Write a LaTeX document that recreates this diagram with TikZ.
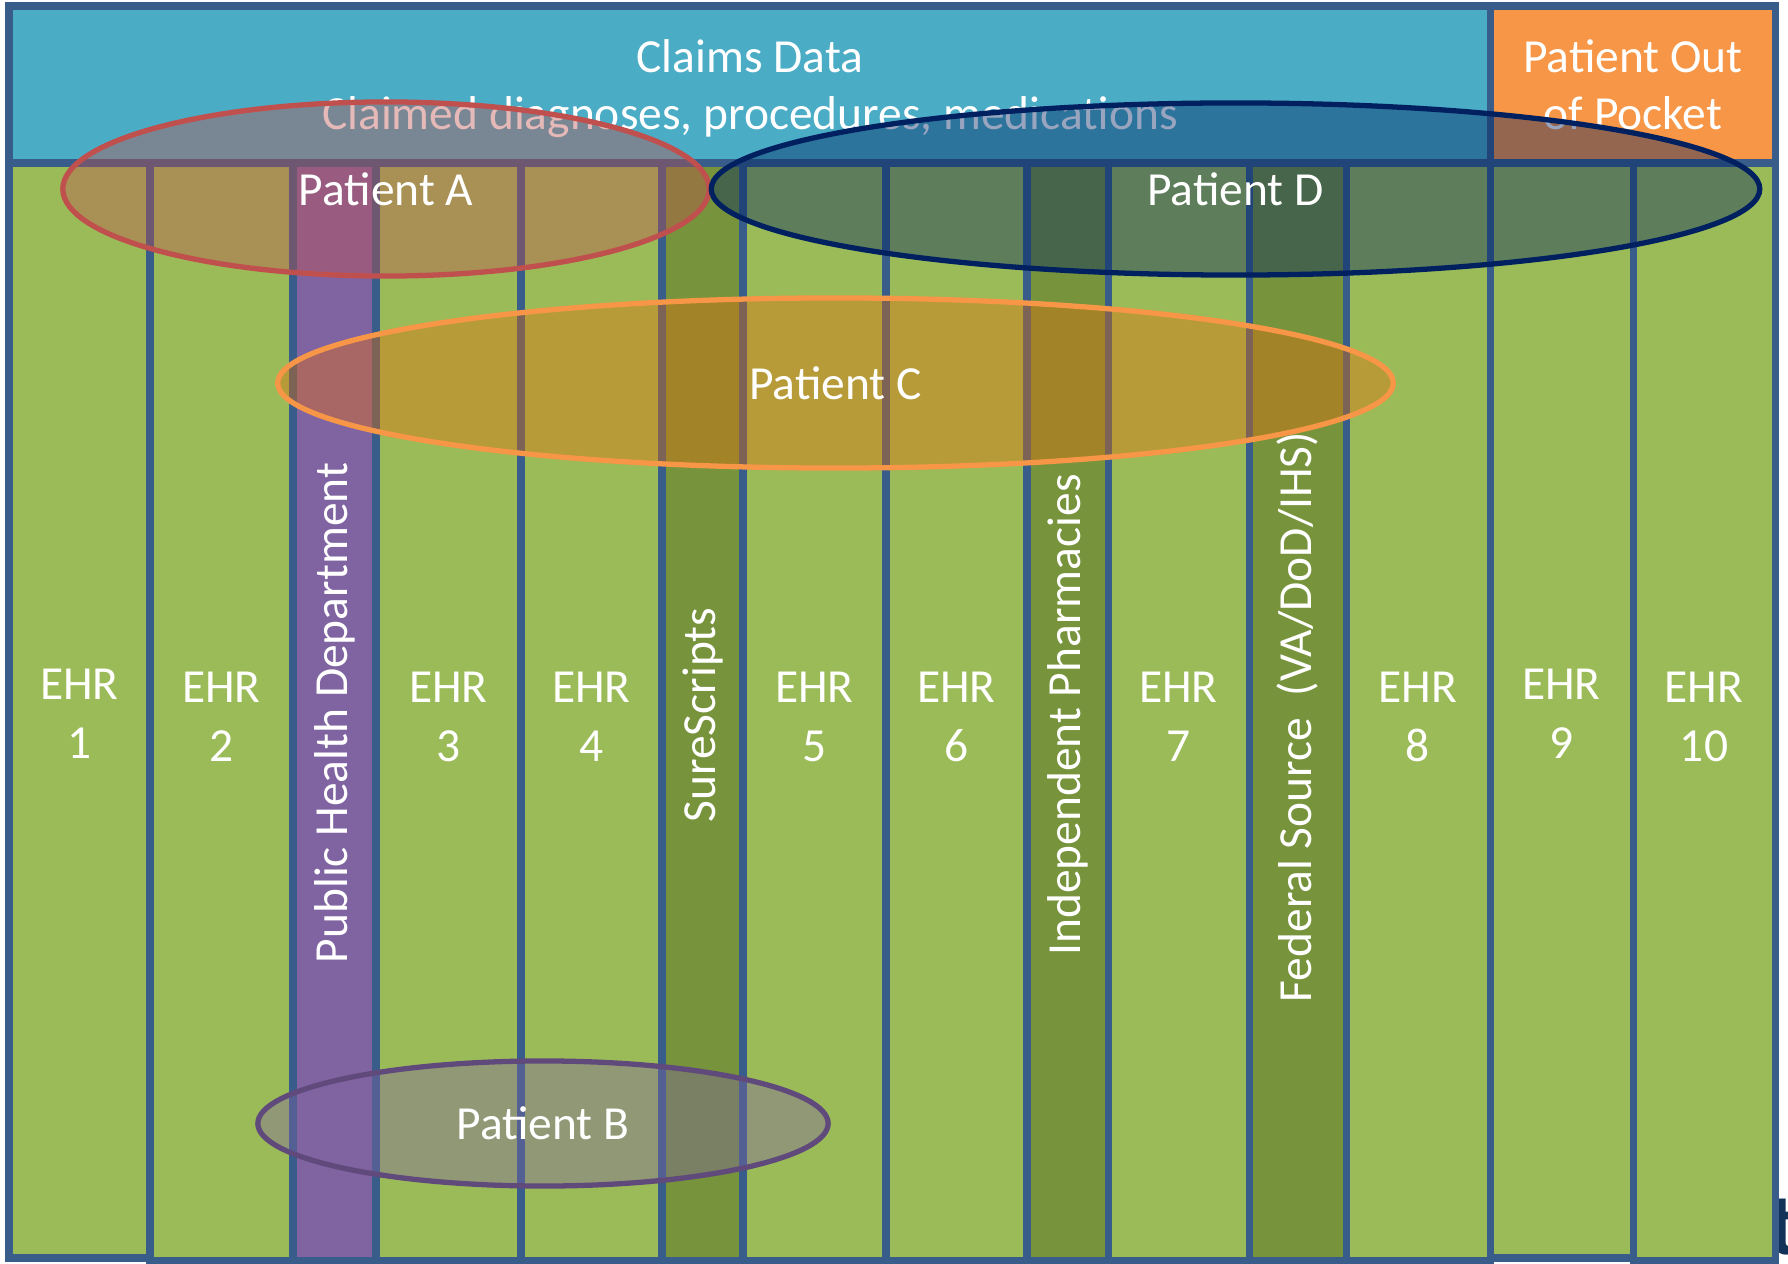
\documentclass[tikz,border=0pt]{standalone}
\usepackage{fontspec}
\setmainfont{Carlito}
\usepackage{tikz}
\usetikzlibrary{shapes.geometric}

\definecolor{claimsblue}{HTML}{4BACC6}
\definecolor{pocketorange}{HTML}{F79646}
\definecolor{ehrgreen}{HTML}{9BBB59}
\definecolor{srcgreen}{HTML}{77933C}
\definecolor{phdpurple}{HTML}{8064A2}
\definecolor{edgeblue}{HTML}{385D8A}
\definecolor{patred}{HTML}{C0504D}
\definecolor{patnavy}{HTML}{002060}
\definecolor{patorange}{HTML}{E46C0A}
\definecolor{patpurple}{HTML}{604A7B}
\definecolor{cutnavy}{HTML}{123259}

\newcommand{\lblfont}{\fontsize{13.5}{16.8}\selectfont}

\begin{document}
\begin{tikzpicture}[x=0.01cm,y=-0.01cm,
    box/.style={draw=edgeblue,line width=2pt},
    ehr/.style={box,fill=ehrgreen},
    feed/.style={box,fill=srcgreen},
    lbl/.style={text=white,font=\lblfont,align=center,inner sep=0pt},
    patient/.style={ellipse,line width=1.5pt,fill opacity=0.4,text opacity=1,text=white,font=\lblfont,inner sep=0pt}]
        \useasboundingbox (0,0) rectangle (1788,1264);
        \node[text=cutnavy,font=\fontsize{25}{30}\selectfont\bfseries,anchor=base west,inner sep=0pt] (cut) at (1768,1254) {t};
        % top band
        \draw[box,fill=claimsblue] (9,6) rectangle (1490,163);
        \draw[box,fill=pocketorange] (1490,6) rectangle (1775,163);
        % sources
        \draw[ehr] (9,163) rectangle (150,1258);
        \draw[ehr] (150,163) rectangle (293,1261);
        \draw[box,fill=phdpurple] (293,163) rectangle (376,1261);
        \draw[ehr] (376,163) rectangle (521,1261);
        \draw[ehr] (521,163) rectangle (662,1261);
        \draw[feed] (662,163) rectangle (743,1261);
        \draw[ehr] (743,163) rectangle (886,1261);
        \draw[ehr] (886,163) rectangle (1027,1261);
        \draw[feed] (1027,163) rectangle (1108,1261);
        \draw[ehr] (1108,163) rectangle (1249,1261);
        \draw[feed] (1249,163) rectangle (1346,1261);
        \draw[ehr] (1346,163) rectangle (1490,1261);
        \draw[ehr] (1490,163) rectangle (1633,1258);
        \draw[ehr] (1633,163) rectangle (1775,1261);
        \node[lbl,anchor=base] (claims) at (750,73) {Claims Data};
        \node[lbl,anchor=base] (claimed) at (750,130) {Claimed diagnoses, procedures, medications};
        \node[lbl,anchor=base] (pocket) at (1633,73) {Patient Out};
        \node[lbl,anchor=base] (pocket') at (1633,130) {of Pocket};
        \node[lbl] (ehr1) at (79.5,714) {EHR\\1};
        \node[lbl] (ehr2) at (221.5,717) {EHR\\2};
        \node[lbl] (ehr3) at (448.5,717) {EHR\\3};
        \node[lbl] (ehr4) at (591.5,717) {EHR\\4};
        \node[lbl] (ehr5) at (814.5,717) {EHR\\5};
        \node[lbl] (ehr6) at (956.5,717) {EHR\\6};
        \node[lbl] (ehr7) at (1178.5,717) {EHR\\7};
        \node[lbl] (ehr8) at (1418,717) {EHR\\8};
        \node[lbl] (ehr9) at (1561.5,714) {EHR\\9};
        \node[lbl] (ehr10) at (1704,717) {EHR\\10};
        \node[lbl,rotate=90] (phd) at (334.5,713) {Public Health Department};
        \node[lbl,rotate=90] (sure) at (703,715) {SureScripts};
        \node[lbl,rotate=90] (pharm) at (1067.5,715) {Independent Pharmacies};
        \node[lbl,rotate=90] (fed) at (1297.5,717) {Federal Source\ \ (VA/DoD/IHS)};
        % patients
        \node[patient,draw=patred,fill=patred,minimum width=6.46cm,minimum height=1.74cm] (patA) at (386,189) {Patient A};
        \node[patient,draw=patnavy,fill=patnavy,minimum width=10.48cm,minimum height=1.72cm] (patD) at (1235.5,189) {Patient D};
        \node[patient,draw=pocketorange,fill=patorange,minimum width=11.15cm,minimum height=1.70cm] (patC) at (835.5,383) {Patient C};
        \node[patient,draw=patpurple,fill=phdpurple,minimum width=5.70cm,minimum height=1.25cm] (patB) at (543,1123.5) {Patient B};
      \end{tikzpicture}
\end{document}
